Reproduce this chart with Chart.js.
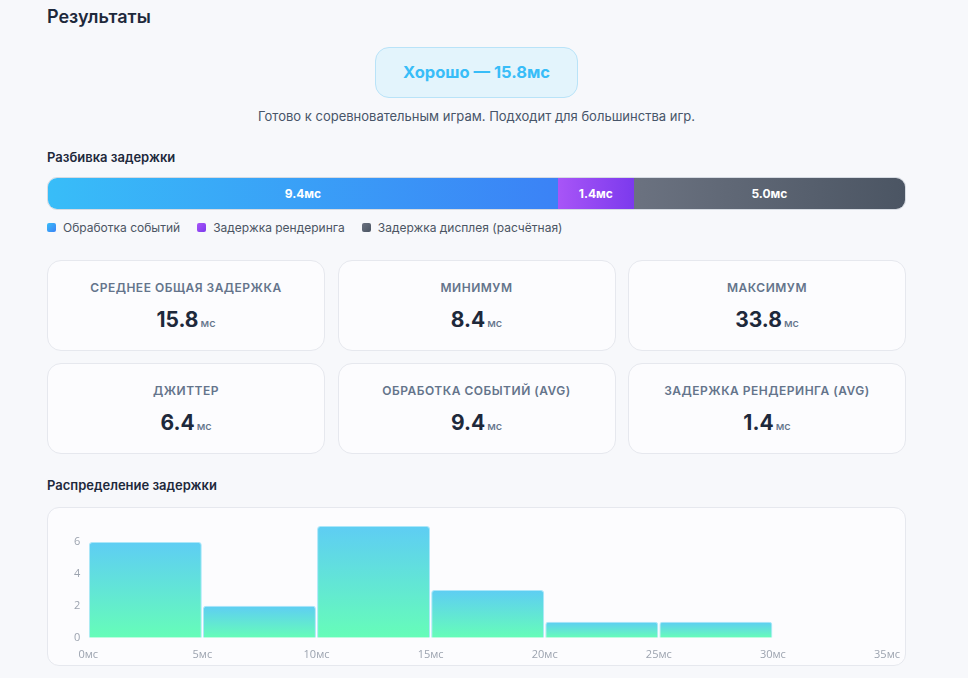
<!DOCTYPE html>
<html lang="ru">
<head>
<meta charset="utf-8">
<title>Результаты</title>
<script src="https://cdn.jsdelivr.net/npm/chart.js@4.4.1/dist/chart.umd.min.js"></script>
<style>
	* { box-sizing: border-box; }
	body { margin: 0; background: #f7f8fb; font-family: Inter, "Noto Sans", sans-serif; color: #1e293b; }
	.wrap { width: 859px; margin-left: 47px; padding-top: 5px; }
	h2 { margin: 0; font-size: 18px; font-weight: 600; line-height: 24px; }
	.badge-row { text-align: center; margin-top: 18px; }
	.badge { display: inline-block; width: 203px; height: 51px; line-height: 49px; border-radius: 14px;
		background: #e3f4fc; border: 1px solid #b9e3f8; color: #38bdf8; font-weight: 700; font-size: 16.5px; }
	.verdict { text-align: center; font-size: 13px; color: #475569; margin-top: 10px; }
	h3 { margin: 24px 0 0; font-size: 13px; font-weight: 600; line-height: 18px; }
	.bar { display: flex; height: 33px; margin-top: 11px; border-radius: 10px; overflow: hidden; border: 1px solid #d6dbe2; }
	.seg { color: #fff; font-weight: 700; font-size: 12px; display: flex; align-items: center; justify-content: center; }
	.legend { display: flex; gap: 17px; margin-top: 10px; font-size: 12px; color: #4b5563; }
	.legend span { display: inline-flex; align-items: center; }
	.legend i { width: 9px; height: 9px; border-radius: 2px; margin-right: 7px; display: inline-block; }
	.cards { display: grid; grid-template-columns: repeat(3, 278px); gap: 12px 12.5px; margin-top: 25px; }
	.card { height: 91px; border-radius: 14px; background: #fcfcfe; border: 1px solid #e6e8ee; text-align: center; padding-top: 19px; }
	.card .lbl { font-size: 12px; font-weight: 600; letter-spacing: 0.5px; color: #64748b; }
	.card .val { margin-top: 12px; font-size: 21px; font-weight: 700; color: #1e293b; }
	.card .val small { font-size: 11px; font-weight: 500; color: #64748b; margin-left: 2px; }
	.histo { position: relative; height: 159px; margin-top: 13px; border-radius: 12px; background: #fcfcfe; border: 1px solid #e6e8ee; overflow: hidden; }
	.histo canvas { position: absolute; left: 0; top: 0; }
</style>
</head>
<body>
<div class="wrap">
	<h2>Результаты</h2>
	<div class="badge-row"><div class="badge" id="badge"></div></div>
	<div class="verdict">Готово к соревновательным играм. Подходит для большинства игр.</div>

	<h3>Разбивка задержки</h3>
	<div class="bar" id="bar"></div>
	<div class="legend" id="legend"></div>

	<div class="cards" id="cards"></div>

	<h3 style="margin-top:22px">Распределение задержки</h3>
	<div class="histo"><canvas id="histo" width="862" height="166"></canvas></div>
</div>

<script>
	// Разбивка задержки (мс)
	var partNames = ['Обработка событий', 'Задержка рендеринга', 'Задержка дисплея (расчётная)'];
	var partValues = [9.4, 1.4, 5.0];
	var partColors = [['#38bdf8', '#3b82f6'], ['#a855f7', '#7c3aed'], ['#6b7280', '#4b5563']];

	// Карточки
	var statLabels = ['Среднее общая задержка', 'Минимум', 'Максимум', 'Джиттер', 'Обработка событий (avg)', 'Задержка рендеринга (avg)'];
	var statValues = [15.8, 8.4, 33.8, 6.4, 9.4, 1.4];

	// Гистограмма: начало корзины (мс) и число замеров
	var binStarts = [0, 5, 10, 15, 20, 25];
	var binCounts = [6, 2, 7, 3, 1, 1];
	var binSize = 5;
	var xTicks = [0, 5, 10, 15, 20, 25, 30, 35];

	var total = partValues.reduce(function (a, b) { return a + b; }, 0);
	document.getElementById('badge').textContent = 'Хорошо — ' + total.toFixed(1) + 'мс';

	var bar = document.getElementById('bar');
	var legend = document.getElementById('legend');
	for (var i = 0; i < partValues.length; i++) {
		var s = document.createElement('div');
		s.className = 'seg';
		s.style.flex = partValues[i] + ' 0 0';
		s.style.background = 'linear-gradient(90deg,' + partColors[i][0] + ',' + partColors[i][1] + ')';
		s.textContent = partValues[i].toFixed(1) + 'мс';
		bar.appendChild(s);

		var l = document.createElement('span');
		l.innerHTML = '<i style="background:linear-gradient(135deg,' + partColors[i][0] + ',' + partColors[i][1] + ')"></i>' + partNames[i];
		legend.appendChild(l);
	}

	var cards = document.getElementById('cards');
	for (var j = 0; j < statLabels.length; j++) {
		var c = document.createElement('div');
		c.className = 'card';
		c.innerHTML = '<div class="lbl">' + statLabels[j].toUpperCase() + '</div>' +
			'<div class="val">' + statValues[j].toFixed(1) + '<small>мс</small></div>';
		cards.appendChild(c);
	}

	var points = binStarts.map(function (b, k) { return { x: b + binSize / 2, y: binCounts[k] }; });

	let ctx = document.getElementById('histo');
	let chart = new Chart(ctx, {
		type: 'bar',
		data: {
			datasets: [{
				data: points,
				backgroundColor: function (context) {
					var c = context.chart;
					var y = c.scales.y;
					if (!y || !context.raw) return '#5ecdf3';
					var top = y.getPixelForValue(context.raw.y);
					var bottom = y.getPixelForValue(0);
					if (!isFinite(top) || top === bottom) return '#5ecdf3';
					var g = c.ctx.createLinearGradient(0, top, 0, bottom);
					g.addColorStop(0, '#5ecdf4');
					g.addColorStop(1, '#66fdb8');
					return g;
				},
				borderColor: 'rgba(150, 225, 248, 0.8)',
				borderWidth: 1,
				borderRadius: 3,
				borderSkipped: 'start',
				barPercentage: 0.99,
				categoryPercentage: 1
			}]
		},
		options: {
			responsive: false,
			animation: false,
			layout: { padding: { left: 18, right: 8, top: 18, bottom: 3 } },
			plugins: { legend: { display: false }, tooltip: { enabled: false } },
			scales: {
				x: {
					type: 'linear',
					min: xTicks[0],
					max: xTicks[xTicks.length - 1],
					offset: false,
					grid: { display: false, drawTicks: false },
					border: { display: false },
					afterBuildTicks: function (axis) { axis.ticks = xTicks.map(function (v) { return { value: v }; }); },
					ticks: {
						padding: 10,
						color: '#9ca3af',
						font: { family: 'Open Sans', size: 11 },
						maxRotation: 0,
						callback: function (v) { return v + 'мс'; }
					}
				},
				y: {
					beginAtZero: true,
					max: Math.max.apply(null, binCounts),
					grid: { display: false, drawTicks: false },
					border: { display: false },
					ticks: {
						stepSize: 2,
						includeBounds: false,
						padding: 8,
						color: '#9ca3af',
						font: { family: 'Open Sans', size: 11 }
					}
				}
			}
		}
	});
</script>
</body>
</html>
